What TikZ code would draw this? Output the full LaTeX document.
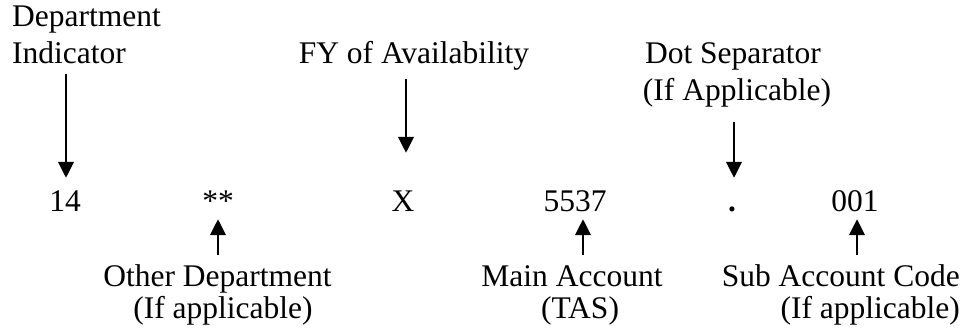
\documentclass[tikz,border=0pt]{standalone}
\usepackage{fontspec}
\setmainfont{Liberation Serif}
\usetikzlibrary{arrows.meta}
\begin{document}
\begin{tikzpicture}[x=1pt,y=-1pt,
  every node/.style={font=\fontsize{31.5}{37}\selectfont, inner sep=0pt},
  val/.style={anchor=base, text height=21pt, text depth=0pt},
  lbl/.style={text height=21pt, text depth=0pt},
  arr/.style={line width=2.2pt, -{Triangle[length=16pt,width=15.5pt]}}]
\useasboundingbox (0,0) rectangle (965,327);

% code fields
\node[val] (v14)   at (65,211)  {14};
\node[val] (vstar) at (218,211) {**};
\node[val] (vX)    at (403,211) {X};
\node[val] (v5537) at (575,211) {5537};
\node[val] (vdot)  at (732,211) {\textbf{.}};
\node[val] (v001)  at (855,211) {001};

% labels above
\node[lbl, anchor=base west] (dept1) at (12,26) {Department};
\node[lbl, anchor=base west] (dept2) at (12,63) {Indicator};
\node[lbl, anchor=base]      (fy)    at (414,63) {FY of Availability};
\node[lbl, anchor=base]      (dot1)  at (733,63) {Dot Separator};
\node[lbl, anchor=base]      (dot2)  at (737,100) {(If Applicable)};

% labels below
\node[lbl, anchor=base]      (oth1)  at (217.5,286) {Other Department};
\node[lbl, anchor=base]      (oth2)  at (223,318) {(If applicable)};
\node[lbl, anchor=base]      (main1) at (572,286) {Main Account};
\node[lbl, anchor=base]      (main2) at (580,318) {(TAS)};
\node[lbl, anchor=base east] (sub1)  at (960,286) {Sub Account Code};
\node[lbl, anchor=base east] (sub2)  at (960,318) {(If applicable)};

% downward arrows
\draw[arr, shorten <=11pt, shorten >=12pt] ([xshift=1pt]dept2.south -| v14) -- ([xshift=1pt]v14.north);
\draw[arr, shorten <=16pt, shorten >=37pt] ([xshift=3pt]fy.south -| vX) -- ([xshift=3pt]vX.north);
\draw[arr, shorten <=22pt, shorten >=12pt] ([xshift=2pt]dot2.south -| vdot) -- ([xshift=2pt]vdot.north);

% upward arrows
\draw[arr, shorten <=10pt, shorten >=8pt] (oth1.north -| vstar) -- (vstar.south);
\draw[arr, shorten <=10pt, shorten >=8pt] ([xshift=8pt]main1.north -| v5537) -- ([xshift=8pt]v5537.south);
\draw[arr, shorten <=10pt, shorten >=8pt] ([xshift=2pt]sub1.north -| v001) -- ([xshift=2pt]v001.south);
\end{tikzpicture}
\end{document}
